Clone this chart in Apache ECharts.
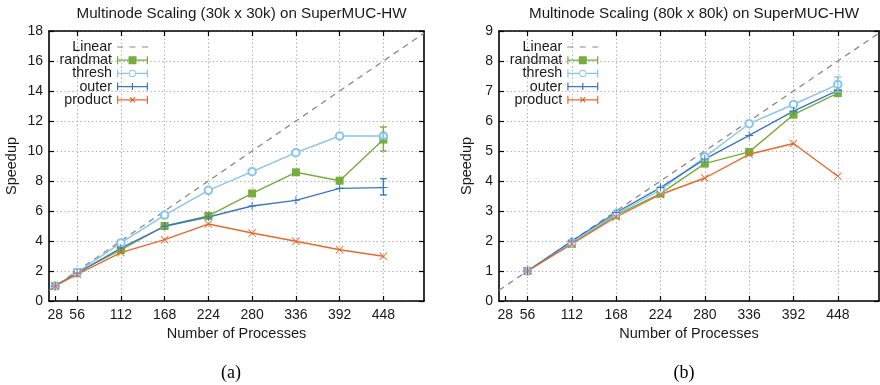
<!DOCTYPE html>
<html>
<head>
<meta charset="utf-8">
<script src="https://cdn.jsdelivr.net/npm/echarts@6/dist/echarts.min.js"></script>
<style>
  html, body { margin: 0; padding: 0; background: #fff; }
  #main { width: 880px; height: 385px; }
</style>
</head>
<body>
<div id="main"></div>
<script>
// x positions (number of processes)
const procs = [28, 56, 112, 168, 224, 280, 336, 392, 448]
const procsB = [56, 112, 168, 224, 280, 336, 392, 448]
const xTicks = [28, 56, 112, 168, 224, 280, 336, 392, 448]
const xGrid = [56, 112, 168, 224, 280, 336, 392, 448]

// (a) 30k x 30k
const linearA = [[20, 0.714], [500, 17.857]]
const randmatA = [1.0, 1.9, 3.4, 5.0, 5.67, 7.17, 8.58, 8.02, 10.76]
const threshA = [1.0, 1.9, 3.87, 5.73, 7.38, 8.62, 9.89, 11.0, 11.0]
const outerA = [1.0, 1.85, 3.53, 4.98, 5.6, 6.33, 6.71, 7.51, 7.56]
const productA = [1.0, 1.78, 3.22, 4.09, 5.13, 4.53, 3.98, 3.42, 2.98]
// error bars [series, x, low, high]
const errA = [
  ['randmat', 448, 10.0, 11.6],
  ['thresh', 448, 10.85, 11.17],
  ['outer', 448, 7.07, 8.16]
]

// (b) 80k x 80k
const linearB = [[20, 0.357], [500, 8.929]]
const randmatB = [1.0, 1.91, 2.86, 3.58, 4.58, 4.97, 6.21, 6.93]
const threshB = [1.0, 1.95, 2.9, 3.7, 4.8, 5.91, 6.55, 7.22]
const outerB = [1.0, 2.0, 2.95, 3.78, 4.73, 5.52, 6.33, 7.02]
const productB = [1.0, 1.9, 2.8, 3.55, 4.1, 4.89, 5.25, 4.16]
const errB = [
  ['thresh', 448, 6.97, 7.47]
]

const colors = {
  Linear: '#8a8a8a',
  randmat: '#76ad3d',
  thresh: '#86c5ec',
  outer: '#3b77c0',
  product: '#e8692f'
}
const FONT = 'Liberation Sans'

const plusSym = 'path://M4.4,0H5.6V4.4H10V5.6H5.6V10H4.4V5.6H0V4.4H4.4Z'
const crossSym = 'path://M0.8,0L5,4.2L9.2,0L10,0.8L5.8,5L10,9.2L9.2,10L5,5.8L0.8,10L0,9.2L4.2,5L0,0.8Z'

// legend icons: line with error bar caps + marker
const capsIcon = 'M0,1H1.2V9H0Z M29.8,1H31V9H29.8Z '
const legendIcons = {
  Linear: 'path://M0,0H0.01V0.01H0Z M0,4.4H6V5.6H0Z M12.5,4.4H18.5V5.6H12.5Z M25,4.4H31V5.6H25Z M30.99,9.99H31V10H30.99Z',
  randmat: 'path://' + capsIcon + 'M0,4.4H31V5.6H0Z M11.5,1H19.5V9H11.5Z',
  thresh: 'path://' + capsIcon + 'M0,4.4H11.9V5.6H0Z M19.1,4.4H31V5.6H19.1Z ' +
    'M19.1,5A3.6,3.6 0 1,1 11.9,5A3.6,3.6 0 1,1 19.1,5Z M18.2,5A2.7,2.7 0 1,0 12.8,5A2.7,2.7 0 1,0 18.2,5Z',
  outer: 'path://' + capsIcon + 'M0,4.4H31V5.6H0Z M14.9,1.5H16.1V8.5H14.9Z',
  product: 'path://' + capsIcon + 'M0,4.4H31V5.6H0Z ' +
    'M12.5,2.8L13.3,2L18.5,7.2L17.7,8Z M12.5,7.2L17.7,2L18.5,2.8L13.3,8Z'
}

function lineSeries(name, xs, ys, gi) {
  const sym = { randmat: 'rect', thresh: 'emptyCircle', outer: plusSym, product: crossSym }[name]
  const size = { randmat: 8, thresh: 7.5, outer: 8, product: 8 }[name]
  return {
    name: name,
    type: 'line',
    xAxisIndex: gi * 2,
    yAxisIndex: gi * 2,
    data: xs.map((x, i) => [x, ys[i]]),
    symbol: sym,
    symbolSize: size,
    showAllSymbol: true,
    color: colors[name],
    lineStyle: { width: 1.4 },
    itemStyle: { borderWidth: name === 'thresh' ? 1 : 0 },
    z: 3
  }
}

function linearSeries(data, gi) {
  return {
    name: 'Linear',
    type: 'line',
    xAxisIndex: gi * 2,
    yAxisIndex: gi * 2,
    data: data,
    symbol: 'none',
    color: colors.Linear,
    lineStyle: { width: 1.3, type: [6, 5] },
    z: 2
  }
}

function errSeries(errs, gi) {
  return {
    name: 'err' + gi,
    type: 'custom',
    xAxisIndex: gi * 2,
    yAxisIndex: gi * 2,
    data: errs.map(e => [e[1], e[2], e[3], e[0]]),
    encode: { x: 0, y: [1, 2] },
    z: 4,
    renderItem: function (params, api) {
      const x = api.value(0)
      const lo = api.coord([x, api.value(1)])
      const hi = api.coord([x, api.value(2)])
      const c = colors[errs[params.dataIndex][0]]
      const st = { stroke: c, lineWidth: 1.4 }
      return {
        type: 'group',
        children: [
          { type: 'line', shape: { x1: lo[0], y1: lo[1], x2: hi[0], y2: hi[1] }, style: st },
          { type: 'line', shape: { x1: lo[0] - 3.5, y1: lo[1], x2: lo[0] + 3.5, y2: lo[1] }, style: st },
          { type: 'line', shape: { x1: hi[0] - 3.5, y1: hi[1], x2: hi[0] + 3.5, y2: hi[1] }, style: st }
        ]
      }
    }
  }
}

const axisLine = { show: true, onZero: false, lineStyle: { color: '#000', width: 1.6 } }
const gridLine = { show: true, lineStyle: { color: '#aaaaaa', type: [1.3, 2.6], width: 1.1 } }
const labelStyle = { color: '#1a1a1a', fontFamily: FONT, fontSize: 14 }

function xAxes(gi) {
  return [
    {
      type: 'value', gridIndex: gi, min: 20, max: 500, position: 'bottom',
      axisLine: axisLine,
      axisTick: { inside: true, length: 5, customValues: xTicks, lineStyle: { color: '#000', width: 1.2 } },
      axisLabel: Object.assign({ margin: 7, customValues: xTicks }, labelStyle),
      splitLine: { show: false },
      name: 'Number of Processes', nameLocation: 'middle', nameGap: 24,
      nameTextStyle: { color: '#1a1a1a', fontFamily: FONT, fontSize: 14.5 }
    },
    {
      type: 'value', gridIndex: gi, min: 20, max: 500, position: 'top',
      axisLine: axisLine,
      axisTick: { inside: true, length: 5, customValues: xGrid, lineStyle: { color: '#000', width: 1.2 } },
      axisLabel: { show: false, customValues: xGrid },
      splitLine: gridLine
    }
  ]
}

function yAxes(gi, max, step, gap) {
  return [
    {
      type: 'value', gridIndex: gi, min: 0, max: max, interval: step, position: 'left',
      axisLine: axisLine,
      axisTick: { inside: true, length: 5, lineStyle: { color: '#000', width: 1.2 } },
      axisLabel: Object.assign({ margin: 6 }, labelStyle),
      splitLine: gridLine,
      name: 'Speedup', nameLocation: 'middle', nameGap: gap,
      nameTextStyle: { color: '#1a1a1a', fontFamily: FONT, fontSize: 14.5 }
    },
    {
      type: 'value', gridIndex: gi, min: 0, max: max, interval: step, position: 'right',
      axisLine: axisLine,
      axisTick: { inside: true, length: 5, lineStyle: { color: '#000', width: 1.2 } },
      axisLabel: { show: false },
      splitLine: { show: false }
    }
  ]
}

function legendFor(gi, right) {
  return {
    orient: 'vertical',
    align: 'right',
    right: right,
    top: 40,
    padding: 0,
    itemGap: -0.8,
    itemWidth: 31,
    itemHeight: 10,
    selectedMode: false,
    itemStyle: { borderWidth: 0 },
    textStyle: { color: '#1a1a1a', fontFamily: FONT, fontSize: 14.3, lineHeight: 13.3 },
    data: [
      { name: 'Linear', icon: legendIcons.Linear },
      { name: 'randmat', icon: legendIcons.randmat },
      { name: 'thresh', icon: legendIcons.thresh },
      { name: 'outer', icon: legendIcons.outer },
      { name: 'product', icon: legendIcons.product }
    ]
  }
}

const chart = echarts.init(document.getElementById('main'), null, { renderer: 'canvas' })
const option = {
  animation: false,
  backgroundColor: '#fff',
  title: [
    { text: 'Multinode Scaling (30k x 30k) on SuperMUC-HW', left: 236.5, top: 1, textAlign: 'center',
      textStyle: { fontFamily: FONT, fontSize: 15.2, fontWeight: 'normal', color: '#1a1a1a' } },
    { text: 'Multinode Scaling (80k x 80k) on SuperMUC-HW', left: 689, top: 1, textAlign: 'center',
      textStyle: { fontFamily: FONT, fontSize: 15.2, fontWeight: 'normal', color: '#1a1a1a' } },
    { text: '(a)', left: 226, top: 359, textAlign: 'center',
      textStyle: { fontFamily: 'Liberation Serif', fontSize: 18, fontWeight: 'normal', color: '#000' } },
    { text: '(b)', left: 679, top: 359, textAlign: 'center',
      textStyle: { fontFamily: 'Liberation Serif', fontSize: 18, fontWeight: 'normal', color: '#000' } }
  ],
  legend: [legendFor(0, 732), legendFor(1, 281.7)],
  grid: [
    { left: 49, top: 31, width: 375, height: 270 },
    { left: 499, top: 31, width: 380, height: 270 }
  ],
  xAxis: xAxes(0).concat(xAxes(1)),
  yAxis: yAxes(0, 18, 2, 30).concat(yAxes(1, 9, 1, 25)),
  series: [
    linearSeries(linearA, 0),
    lineSeries('randmat', procs, randmatA, 0),
    lineSeries('thresh', procs, threshA, 0),
    lineSeries('outer', procs, outerA, 0),
    lineSeries('product', procs, productA, 0),
    errSeries(errA, 0),
    linearSeries(linearB, 1),
    lineSeries('randmat', procsB, randmatB, 1),
    lineSeries('thresh', procsB, threshB, 1),
    lineSeries('outer', procsB, outerB, 1),
    lineSeries('product', procsB, productB, 1),
    errSeries(errB, 1)
  ]
}
chart.setOption(option)
</script>
</body>
</html>
